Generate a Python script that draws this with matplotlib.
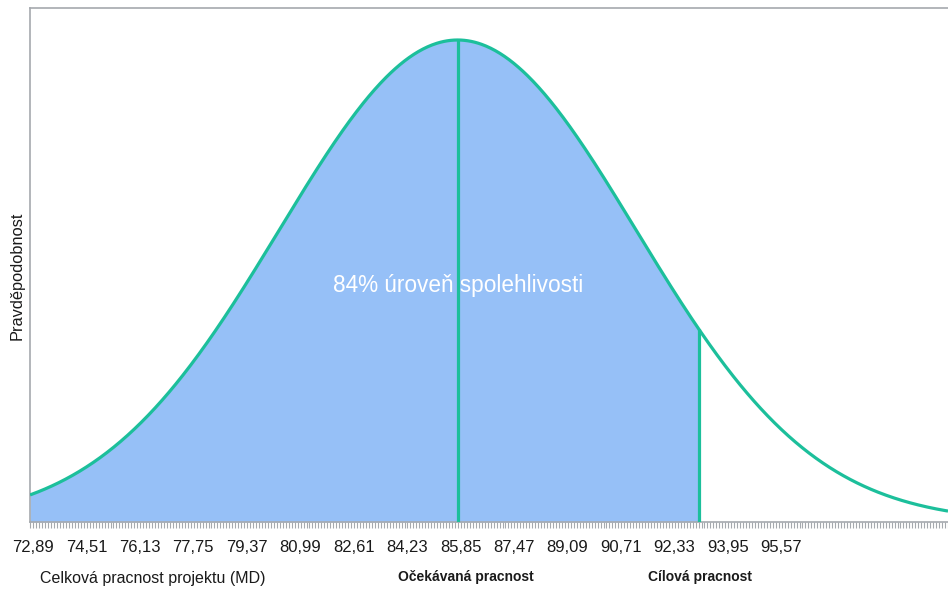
import numpy as np
import matplotlib
matplotlib.use("Agg")
import matplotlib.pyplot as plt
from matplotlib.ticker import FixedLocator, MultipleLocator
import matplotlib.transforms as mtransforms

# ---- data ----
mean_effort = 85.85          # Očekávaná pracnost
sigma_effort = 5.40          # standard deviation
target_effort = 93.16        # Cílová pracnost
x_start = 72.89
x_end = 100.71
tick_values = [72.89, 74.51, 76.13, 77.75, 79.37, 80.99, 82.61, 84.23,
               85.85, 87.47, 89.09, 90.71, 92.33, 93.95, 95.57]
tick_labels = ["72,89", "74,51", "76,13", "77,75", "79,37", "80,99", "82,61", "84,23",
               "85,85", "87,47", "89,09", "90,71", "92,33", "93,95", "95,57"]
confidence_text = "84% úroveň spolehlivosti"

plt.rcParams['font.family'] = ['Liberation Sans', 'DejaVu Sans']

LINE = '#1cbf9b'
FILL = '#96c0f7'
GRAY = '#a5a9ae'

def pdf(x):
    return np.exp(-0.5 * ((x - mean_effort) / sigma_effort) ** 2) / (sigma_effort * np.sqrt(2 * np.pi))

fig = plt.figure(figsize=(9.48, 5.90), dpi=100)
ax = fig.add_axes([30/948, 68/590, 918/948, 514/590])

xs = np.linspace(x_start, x_end, 800)
ys = pdf(xs)
xf = xs[xs <= target_effort]
xf = np.append(xf, target_effort)
ax.fill_between(xf, 0, pdf(xf), color=FILL, lw=0, zorder=1)

ax.text(mean_effort, pdf(mean_effort) * 0.49, confidence_text, color='white',
        fontsize=16.3, ha='center', va='center', zorder=2)

ax.plot(xs, ys, color=LINE, lw=2.3, zorder=3, solid_capstyle='butt')
ax.vlines([mean_effort, target_effort], 0, [pdf(mean_effort), pdf(target_effort)],
          color=LINE, lw=2.3, zorder=3)

ax.set_xlim(x_start, x_end)
ax.set_ylim(0, pdf(mean_effort) * 514 / 482)

for s in ['left', 'top', 'bottom']:
    ax.spines[s].set_color(GRAY)
    ax.spines[s].set_linewidth(1.2)
ax.spines['right'].set_visible(False)

ax.set_yticks([])
ax.xaxis.set_major_locator(FixedLocator(tick_values))
ax.set_xticklabels(tick_labels, fontsize=12, color='#1a1a1a')
ax.xaxis.set_minor_locator(MultipleLocator(0.09))
ax.tick_params(axis='x', which='major', length=0, pad=13)
ax.tick_params(axis='x', which='minor', length=4.5, width=0.8, color=GRAY)
offset = mtransforms.ScaledTranslation(3/100, 0, fig.dpi_scale_trans)
for lbl in ax.get_xticklabels():
    lbl.set_transform(lbl.get_transform() + offset)

ax.set_ylabel("Pravděpodobnost", fontsize=11.8, color='#1a1a1a')
ax.yaxis.set_label_coords(-5/918, (522 - 276) / 514)

fig.text(40/948, 1 - 578/590, "Celková pracnost projektu (MD)", fontsize=11.5,
         color='#1a1a1a', ha='left', va='center')
fig.text(466/948, 1 - 577/590, "Očekávaná pracnost", fontsize=10, fontweight='bold',
         color='#1a1a1a', ha='center', va='center')
fig.text(700/948, 1 - 577/590, "Cílová pracnost", fontsize=10, fontweight='bold',
         color='#1a1a1a', ha='center', va='center')

fig.savefig("out.png", dpi=100)
